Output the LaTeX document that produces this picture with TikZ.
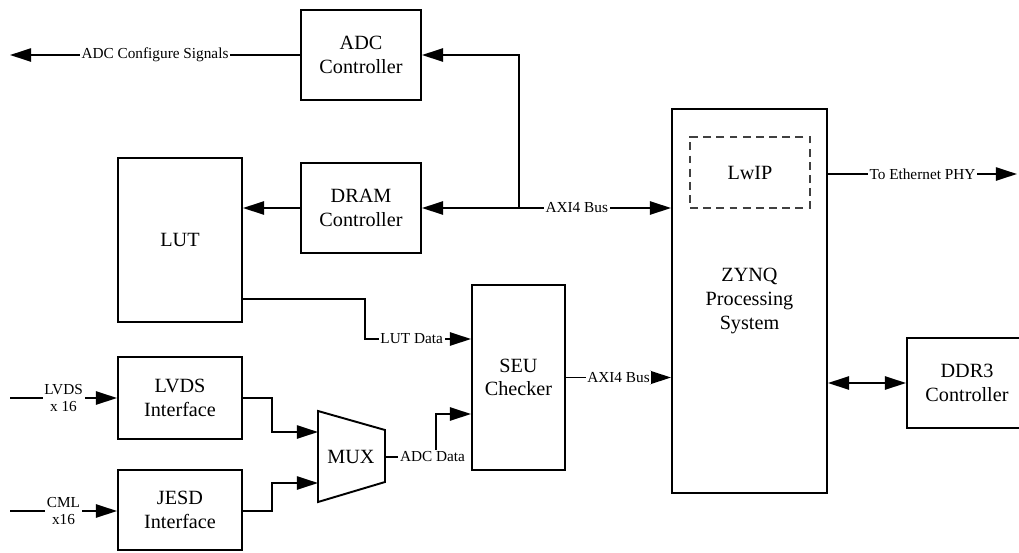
\documentclass[tikz,border=0pt]{standalone}
\usepackage{fontspec}
\setmainfont{Liberation Serif}
\usetikzlibrary{arrows.meta}
\begin{document}
\begin{tikzpicture}[x=0.02cm,y=-0.02cm,font=\fontsize{11.5}{13.5}\selectfont]
\tikzstyle{blk}=[draw,line width=1.1pt,align=center];
\tikzstyle{sig}=[fill=white,inner sep=1pt,align=center,font=\fontsize{8.7}{10.2}\selectfont];
\tikzstyle{alloc}=[line width=1.1pt,-{Triangle[length=12pt,width=7.5pt]}];
\tikzstyle{both}=[line width=1.1pt,{Triangle[length=12pt,width=7.5pt]}-{Triangle[length=12pt,width=7.5pt]}];
\useasboundingbox (0,0) rectangle (1019,552);

\node [blk,minimum width=2.4cm,minimum height=1.8cm] (adc) at (361,55) {ADC\\Controller};
\node [blk,minimum width=2.4cm,minimum height=1.8cm] (dram) at (361,208) {DRAM\\Controller};
\node [blk,minimum width=2.48cm,minimum height=3.28cm] (lut) at (180,240) {LUT};
\node [blk,minimum width=2.48cm,minimum height=1.64cm] (lvds) at (180,398) {LVDS\\Interface};
\node [blk,minimum width=2.48cm,minimum height=1.6cm] (jesd) at (180,510) {JESD\\Interface};
\node [blk,minimum width=1.86cm,minimum height=3.7cm] (seu) at (518.5,377.5) {SEU\\Checker};
\node [blk,minimum width=3.1cm,minimum height=7.68cm] (zynq) at (749.5,301) {ZYNQ\\Processing\\System};
\node [draw,dashed,dash pattern=on 4.5pt off 3pt,line width=0.8pt,draw=black!75,minimum width=2.4cm,minimum height=1.42cm] (lwip) at (750,172.5) {LwIP};
\node [blk,minimum width=2.4cm,minimum height=1.8cm] (ddr) at (967,383) {DDR3\\Controller};

% mux
\node (mux) at (351,457) {MUX};
\draw [line width=1.1pt] (318,411) -- (385,430) -- (385,482) -- (318,502) -- cycle;
\coordinate (mux1) at (318,432);
\coordinate (mux2) at (318,483);
\coordinate (muxo) at (385,457);

\coordinate (cfg) at (10,55);
\coordinate (bus) at (519,208);
\coordinate (phy) at (1017,174);
\coordinate (lvdsin) at (10,398);
\coordinate (cmlin) at (10,511);

\draw [alloc] (adc.west) -- node[sig]{ADC Configure Signals} (cfg);
\draw [alloc] (bus) -- node[sig,pos=0.38]{AXI4 Bus} (zynq.west |- bus);
\draw [alloc] (bus) -- (dram.east);
\draw [alloc] (bus) |- (adc.east);
\draw [alloc] (dram.west) -- (lut.east |- dram.west);
\draw [alloc] (lut.east |- 0,299) -- (365,299) |- node[sig,pos=0.72]{LUT Data} (seu.west |- 0,339);
\draw [alloc] (seu.east) -- node[sig]{AXI4 Bus} (zynq.west |- seu.east);
\draw [alloc] (zynq.east |- phy) -- node[sig]{To Ethernet PHY} (phy);
\draw [both] (zynq.east |- ddr.west) -- (ddr.west);

\draw [alloc] (lvdsin) -- node[sig]{LVDS\\x 16} (lvds.west);
\draw [alloc] (cmlin) -- node[sig]{CML\\x16} (jesd.west |- cmlin);
\draw [alloc] (lvds.east) -- (272,398) |- (mux1);
\draw [alloc] (jesd.east |- cmlin) -- (272,511) |- (mux2);
\draw [alloc] (muxo) -- (436,457) node[sig,xshift=-2pt]{ADC Data} |- (seu.west |- 0,414);
\end{tikzpicture}
\end{document}
